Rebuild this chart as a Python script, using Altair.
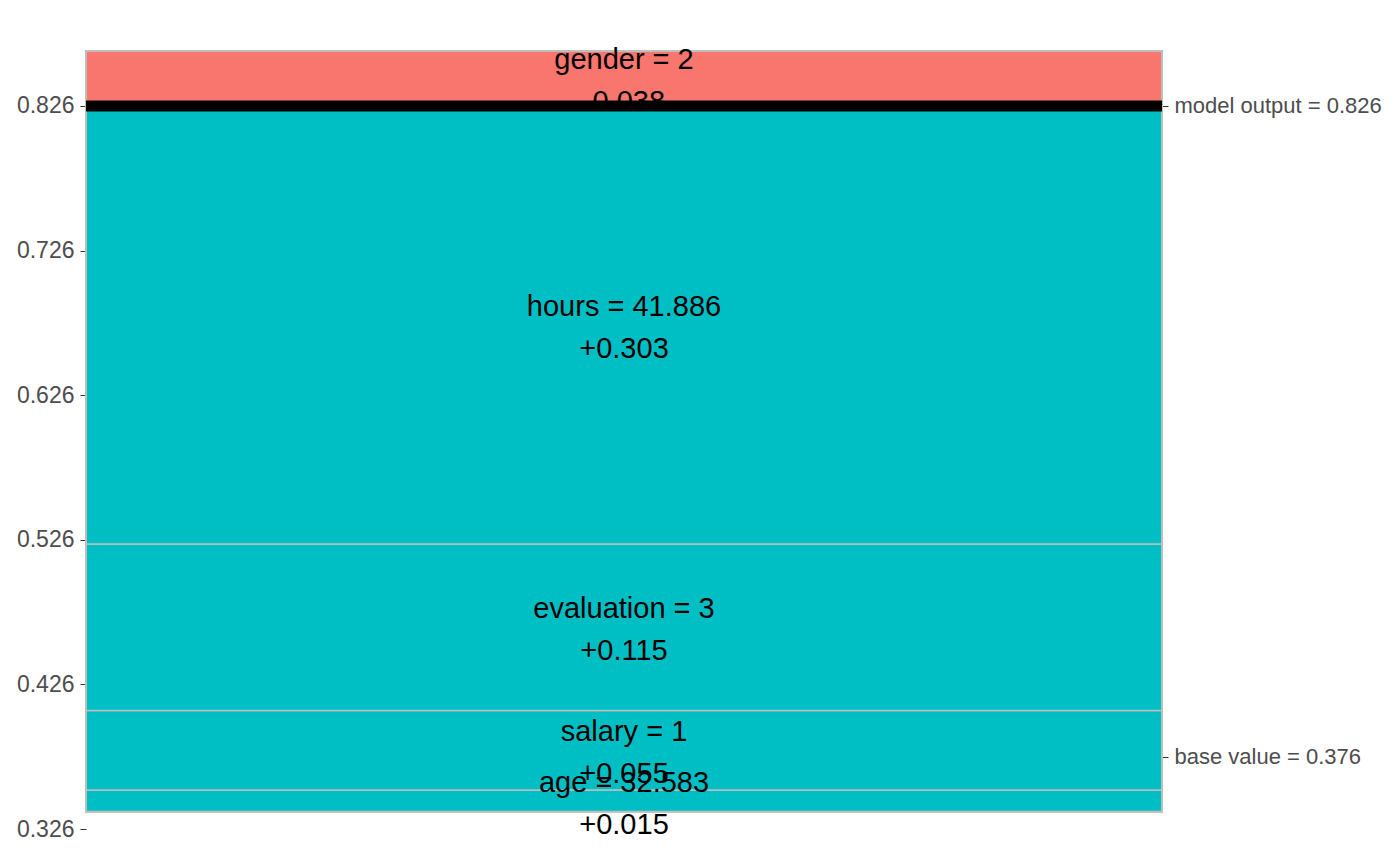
import altair as alt
import pandas as pd

features = ["age = 32.583", "salary = 1", "evaluation = 3", "hours = 41.886", "gender = 2"]
effects = [0.015, 0.055, 0.115, 0.303, -0.038]
effect_labels = ["+0.015", "+0.055", "+0.115", "+0.303", "-0.038"]
base_value = 0.376
model_output = 0.826
left_ticks = [0.326, 0.426, 0.526, 0.626, 0.726, 0.826]
right_ticks = [0.376, 0.826]

# stack: positive effects rise to the output, negative ones sit above it
pos_total = sum(e for e in effects if e > 0)
cur = model_output - pos_total
rows = []
neg_cur = model_output
for f, e, lab in zip(features, effects, effect_labels):
    if e > 0:
        lo, hi = cur, cur + e
        cur = hi
        color = "#00BFC4"
    else:
        lo, hi = neg_cur, neg_cur - e
        neg_cur = hi
        color = "#F8766D"
    rows.append({"feature": f, "label": lab, "lo": lo, "hi": hi, "mid": (lo + hi) / 2, "color": color})
df = pd.DataFrame(rows)

top = max(df["hi"])
bottom_panel = min(df["lo"])
W, H = 1076, 778
dom = [0.326, top]
yscale = alt.Scale(domain=dom, nice=False, zero=False)
FONT = "Liberation Sans"

base = alt.Chart(df)

bars = base.mark_rect(stroke="#BEBEBE", strokeWidth=1.5).encode(
    x=alt.value(0), x2=alt.value(W),
    y=alt.Y("lo:Q", scale=yscale, axis=alt.Axis(
        values=left_ticks, format=".3f", title=None, domain=False, grid=False,
        tickColor="#333333", tickSize=6, labelColor="#4D4D4D", labelFontSize=23,
        labelFont=FONT, labelPadding=6)),
    y2="hi:Q",
    fill=alt.Fill("color:N", scale=None),
)

border = alt.Chart(pd.DataFrame({"lo": [bottom_panel], "hi": [top]})).mark_rect(
    fill=None, stroke="#BEBEBE", strokeWidth=2
).encode(x=alt.value(0), x2=alt.value(W), y=alt.Y("lo:Q", scale=yscale, axis=None), y2="hi:Q")

out_line = alt.Chart(pd.DataFrame({"v": [model_output]})).mark_rule(
    color="black", strokeWidth=11
).encode(x=alt.value(0), x2=alt.value(W), y=alt.Y("v:Q", scale=yscale, axis=None))

txt_feat = base.mark_text(fontSize=29, font=FONT, color="black", dy=-18, baseline="middle").encode(
    x=alt.value(W * 0.5), y=alt.Y("mid:Q", scale=yscale, axis=None), text="feature:N")
txt_val = base.mark_text(fontSize=29, font=FONT, color="black", dy=24, baseline="middle").encode(
    x=alt.value(W * 0.5), y=alt.Y("mid:Q", scale=yscale, axis=None), text="label:N")

right = alt.Chart(pd.DataFrame({"v": right_ticks})).mark_point(opacity=0).encode(
    x=alt.value(W),
    y=alt.Y("v:Q", scale=yscale, axis=alt.Axis(
        orient="right", values=right_ticks, title=None, domain=False, grid=False,
        tickColor="#333333", tickSize=6, labelColor="#4D4D4D", labelFontSize=22,
        labelFont=FONT, labelPadding=6, labelLimit=400,
        labelExpr="datum.value < 0.5 ? 'base value = 0.376' : 'model output = 0.826'")),
)

chart = alt.layer(bars, border, txt_feat, txt_val, out_line, right).resolve_scale(
    y="independent"
).properties(
    width=W, height=H,
    autosize=alt.AutoSizeParams(type="none"),
    padding={"left": 86, "top": 51, "right": 238, "bottom": 37},
).configure_view(stroke=None)

chart.save("out.html", embed_options={"renderer": "svg", "actions": False})
